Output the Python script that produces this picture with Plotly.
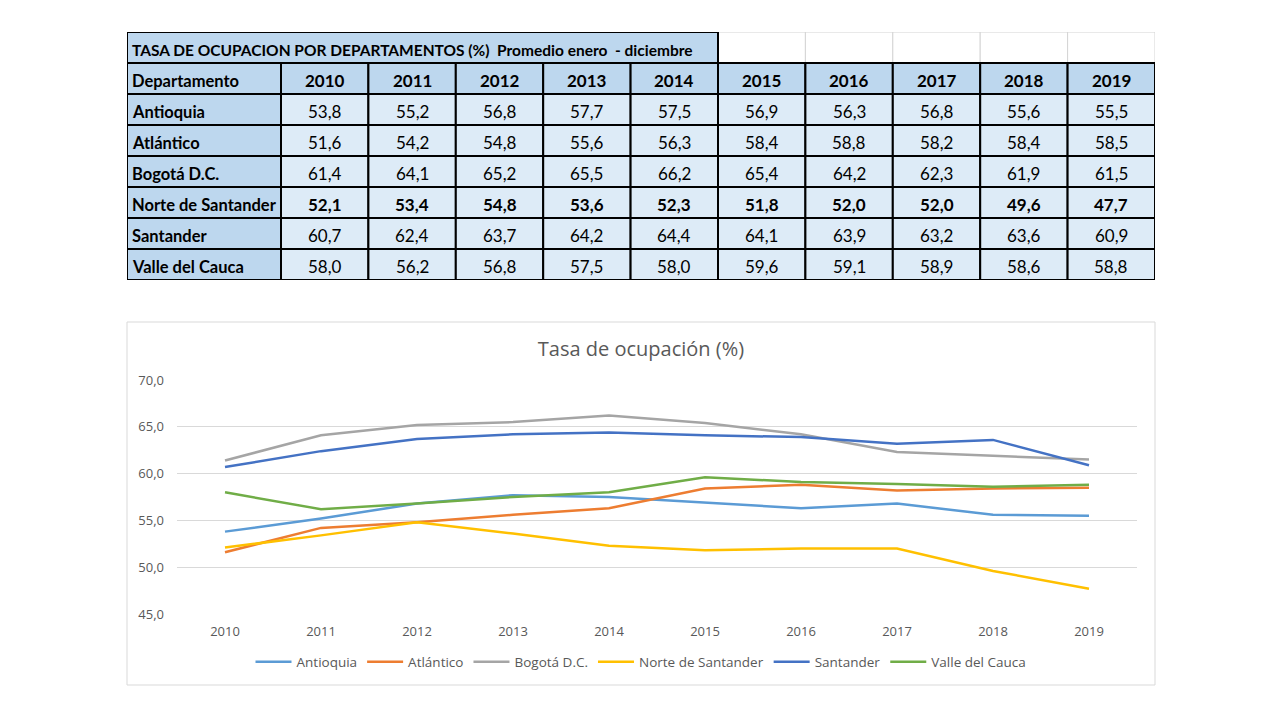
import plotly.graph_objects as go

years = [2010, 2011, 2012, 2013, 2014, 2015, 2016, 2017, 2018, 2019]
departamentos = ["Antioquia", "Atlántico", "Bogotá D.C.", "Norte de Santander", "Santander", "Valle del Cauca"]
antioquia = [53.8, 55.2, 56.8, 57.7, 57.5, 56.9, 56.3, 56.8, 55.6, 55.5]
atlantico = [51.6, 54.2, 54.8, 55.6, 56.3, 58.4, 58.8, 58.2, 58.4, 58.5]
bogota = [61.4, 64.1, 65.2, 65.5, 66.2, 65.4, 64.2, 62.3, 61.9, 61.5]
norte_santander = [52.1, 53.4, 54.8, 53.6, 52.3, 51.8, 52.0, 52.0, 49.6, 47.7]
santander = [60.7, 62.4, 63.7, 64.2, 64.4, 64.1, 63.9, 63.2, 63.6, 60.9]
valle = [58.0, 56.2, 56.8, 57.5, 58.0, 59.6, 59.1, 58.9, 58.6, 58.8]
series = [antioquia, atlantico, bogota, norte_santander, santander, valle]
colors = ["#5B9BD5", "#ED7D31", "#A5A5A5", "#FFC000", "#4472C4", "#70AD47"]
bold_row = "Norte de Santander"

table_title = "TASA DE OCUPACION POR DEPARTAMENTOS (%)  Promedio enero  - diciembre"
header_first = "Departamento"
chart_title = "Tasa de ocupación (%)"

# page body has an 8px margin: figure is sized to fit the window inside it
OFF = 8
W, H = 1280 - 2 * OFF, 720 - 2 * OFF
TFONT = "Lato, Liberation Sans, sans-serif"
CFONT = "Open Sans, Noto Sans, sans-serif"

# table column widths (in table units) and title span (number of columns merged)
col_widths = [154] + [87.4] * len(years)
title_span = 6
TEXT_DY = 0.07  # text sits slightly below the row centre, as in the spreadsheet


def px(x):
    return (x - OFF) / W


def py(y):
    return 1 - (y - OFF) / H


def fmt(v):
    return f"{v:.1f}".replace(".", ",")


fig = go.Figure()

# ---- Line chart
for name, s, c in zip(departamentos, series, colors):
    fig.add_trace(go.Scatter(
        x=[str(y) for y in years], y=s, name=name, mode="lines",
        line=dict(color=c, width=2.5),
        xaxis="x", yaxis="y",
    ))

# ---- Table built on its own axes (x: table units, y: row index)
edges = [0]
for w in col_widths:
    edges.append(edges[-1] + w)
n_rows = 2 + len(departamentos)

shapes = []
annots = []
BLUE = "#BDD7EE"
LIGHT = "#DDEBF7"

# title row: empty cells to the right (light grid), merged title cell
for c in range(title_span, len(col_widths)):
    shapes.append(dict(type="rect", xref="x2", yref="y2", x0=edges[c], x1=edges[c + 1], y0=0, y1=1,
                       fillcolor="white", line=dict(color="#D4D4D4", width=1), layer="above"))
shapes.append(dict(type="rect", xref="x2", yref="y2", x0=edges[0], x1=edges[title_span], y0=0, y1=1,
                   fillcolor=BLUE, line=dict(color="black", width=2), layer="above"))
annots.append(dict(xref="x2", yref="y2", x=edges[0] + 3, y=0.5 + TEXT_DY, xanchor="left", yanchor="middle",
                   text=f"<b>{table_title}</b>", showarrow=False,
                   font=dict(family=TFONT, size=15.5, color="black")))

header_vals = [header_first] + [str(y) for y in years]
for c, hv in enumerate(header_vals):
    shapes.append(dict(type="rect", xref="x2", yref="y2", x0=edges[c], x1=edges[c + 1], y0=1, y1=2,
                       fillcolor=BLUE, line=dict(color="black", width=2), layer="above"))
    annots.append(dict(xref="x2", yref="y2",
                       x=edges[c] + 3 if c == 0 else (edges[c] + edges[c + 1]) / 2,
                       xanchor="left" if c == 0 else "center", y=1.5 + TEXT_DY, yanchor="middle",
                       text=f"<b>{hv}</b>", showarrow=False,
                       font=dict(family=TFONT, size=17 if c else 16.5, color="black")))

for r, (d, s) in enumerate(zip(departamentos, series)):
    row = 2 + r
    vals = [d] + [fmt(v) for v in s]
    for c, v in enumerate(vals):
        shapes.append(dict(type="rect", xref="x2", yref="y2", x0=edges[c], x1=edges[c + 1],
                           y0=row, y1=row + 1, fillcolor=BLUE if c == 0 else LIGHT,
                           line=dict(color="black", width=2), layer="above"))
        bold = (c == 0) or (d == bold_row)
        annots.append(dict(xref="x2", yref="y2",
                           x=edges[c] + 3 if c == 0 else (edges[c] + edges[c + 1]) / 2,
                           xanchor="left" if c == 0 else "center", y=row + 0.5 + TEXT_DY,
                           yanchor="middle",
                           text=f"<b>{v}</b>" if bold else v, showarrow=False,
                           font=dict(family=TFONT, size=16.5 if c == 0 else 17, color="black")))

# chart frame
shapes.append(dict(type="rect", xref="paper", yref="paper",
                   x0=px(127), x1=px(1155), y0=py(685), y1=py(322),
                   line=dict(color="#D9D9D9", width=1), layer="below"))

fig.update_layout(
    width=W, height=H,
    margin=dict(l=0, r=0, t=0, b=0, pad=0, autoexpand=False),
    paper_bgcolor="white", plot_bgcolor="white",
    separators=",.",
    font=dict(family=CFONT, color="#595959"),
    title=dict(text=chart_title, x=px(641), xanchor="center", y=py(349), yanchor="middle",
               font=dict(family=CFONT, size=20, color="#595959")),
    xaxis=dict(domain=[px(177), px(1137)], range=[-0.5, 9.5], type="category",
               showgrid=False, showline=False, zeroline=False, ticks="", automargin=False,
               tickfont=dict(size=13, color="#595959"), anchor="y", ticklabelstandoff=8),
    yaxis=dict(domain=[py(614), py(380)], range=[45, 70], dtick=5, automargin=False,
               tickformat=".1f", showgrid=True, gridcolor="#D9D9D9", gridwidth=1,
               zeroline=False, showline=False, ticks="", ticklabelstandoff=12,
               tickfont=dict(size=13, color="#595959"), anchor="x"),
    xaxis2=dict(domain=[px(127), px(1155)], range=[0, edges[-1]], visible=False,
                fixedrange=True, anchor="y2", automargin=False),
    yaxis2=dict(domain=[py(32 + 31 * n_rows), py(32)], range=[n_rows, 0], visible=False,
                fixedrange=True, anchor="x2", automargin=False),
    legend=dict(orientation="h", x=px(641), xanchor="center", y=py(662), yanchor="middle",
                font=dict(size=13.5, color="#595959"), itemwidth=36, bgcolor="rgba(0,0,0,0)"),
    shapes=shapes,
    annotations=annots,
)

fig.write_html("out.html")
